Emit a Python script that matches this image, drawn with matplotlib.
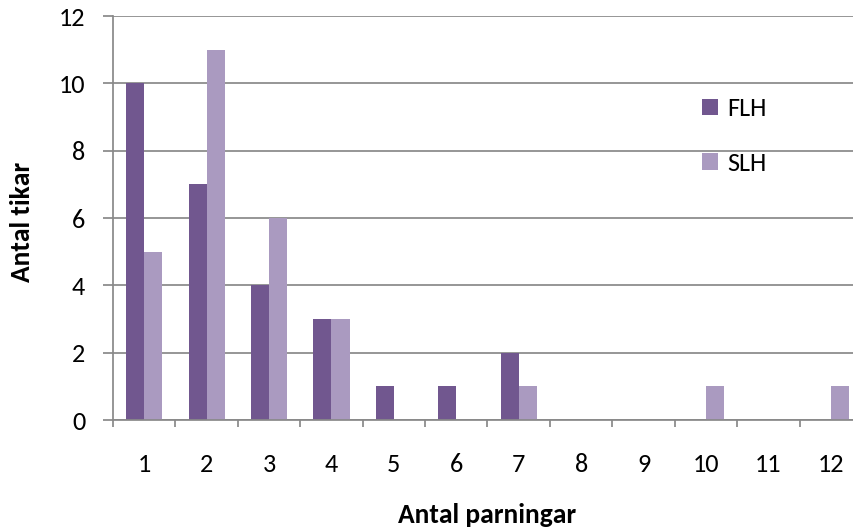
import numpy as np
import matplotlib

matplotlib.use("Agg")
import matplotlib.pyplot as plt

categories = ["1", "2", "3", "4", "5", "6", "7", "8", "9", "10", "11", "12"]
flh = [10, 7, 4, 3, 1, 1, 2, 0, 0, 0, 0, 0]
slh = [5, 11, 6, 3, 0, 0, 1, 0, 0, 1, 0, 1]

FAMILY = ["Carlito", "Lato", "DejaVu Sans"]
plt.rcParams["font.family"] = FAMILY

DPI = 100
fig = plt.figure(figsize=(8.54, 5.29), dpi=DPI)
renderer = fig.canvas.get_renderer()


def _fit(text, target_px, weight="normal"):
    """Font size (pt) at which ``text`` is ``target_px`` wide."""
    probe = fig.text(0, 0, text, fontsize=10, fontweight=weight)
    width = probe.get_window_extent(renderer).width
    probe.remove()
    return 10 * target_px / width


tick_size = _fit("10", 27)
label_size = _fit("Antal parningar", 179, "bold")
em = tick_size * DPI / 72

# axes: left spine at x=113 px, zero line at y=420 px, 12 at y=16, category width ~62.4 px
ax = fig.add_axes([113 / 854, 109 / 529, 749 / 854, 404 / 529])

x = np.arange(len(categories))
w = 0.29
grid_c = "#898989"
ax.bar(x - w / 2, flh, w, color="#71578F", label="FLH", zorder=2)
ax.bar(x + w / 2, slh, w, color="#AA9AC0", label="SLH", zorder=2)

ax.set_xlim(-0.5, len(categories) - 0.5)
ax.set_ylim(0, 12)
ax.set_yticks(range(0, 13, 2))
ax.yaxis.grid(True, color=grid_c, linewidth=1.25, zorder=0)
ax.set_axisbelow(True)

ax.set_xticks(x)
ax.set_xticklabels(categories)
ax.set_xticks(np.arange(-0.5, len(categories), 1), minor=True)
ax.tick_params(axis="x", which="major", length=0, pad=24, labelsize=tick_size)
ax.tick_params(axis="x", which="minor", length=5.2, width=1.25, color=grid_c)
ax.tick_params(axis="y", length=7, width=1.25, color=grid_c, labelsize=tick_size, pad=13)

for side in ("top", "right"):
    ax.spines[side].set_visible(False)
for side in ("left", "bottom"):
    ax.spines[side].set_color(grid_c)
    ax.spines[side].set_linewidth(1.25)

ax.set_xlabel("Antal parningar", fontsize=label_size, fontweight="bold")
ax.xaxis.set_label_coords(0.5, -0.205)
ax.set_ylabel("Antal tikar", fontsize=label_size, fontweight="bold")
ax.yaxis.set_label_coords(-0.105, 0.49)

ax.legend(loc="center left", bbox_to_anchor=(0.786, 0.703), frameon=False,
          fontsize=tick_size, borderpad=0, borderaxespad=0,
          handlelength=16 / em, handleheight=15 / em, handletextpad=10 / em,
          labelspacing=1.2)

fig.savefig("out.png", dpi=DPI)
